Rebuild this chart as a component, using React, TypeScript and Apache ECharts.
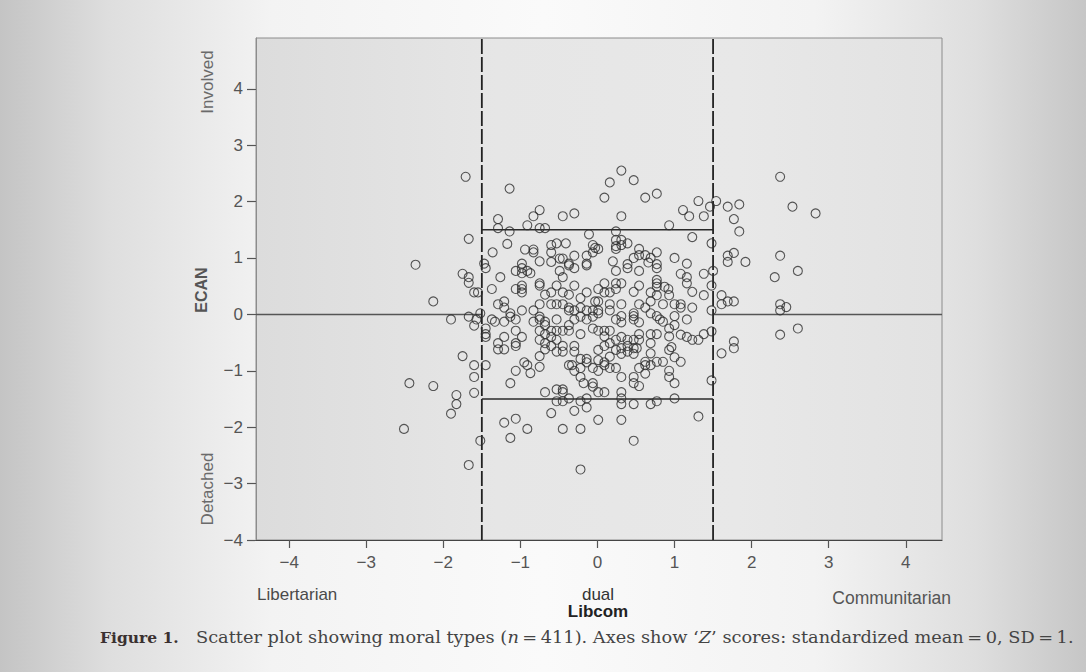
import { useEffect, useRef } from "react";
import * as echarts from "echarts";

type P = [number, number];

// Libertarian side (Libcom < -1.5)
const outsideLeft: P[] = [
  [-1.71, 2.44], [-1.67, 1.34], [-2.36, 0.88], [-1.75, 0.72], [-1.67, 0.66], [-1.67, 0.56],
  [-1.6, 0.39], [-1.55, 0.39], [-2.13, 0.23], [-1.9, -0.09], [-1.67, -0.04], [-1.57, -0.09],
  [-1.6, -0.2], [-1.52, 0.02], [-1.75, -0.74], [-1.6, -0.9], [-1.6, -1.11], [-2.44, -1.22],
  [-2.13, -1.27], [-1.83, -1.43], [-1.6, -1.39], [-1.83, -1.59], [-1.9, -1.76], [-2.51, -2.03],
  [-1.52, -2.24], [-1.67, -2.67],
];

// Communitarian side (Libcom > 1.5)
const outsideRight: P[] = [
  [2.37, 2.44], [1.54, 2.01], [1.69, 1.91], [1.84, 1.95], [2.53, 1.91], [2.83, 1.79],
  [1.77, 1.69], [1.84, 1.47], [1.48, 1.26], [1.77, 1.09], [1.69, 1.04], [1.69, 0.93],
  [1.92, 0.93], [2.37, 1.04], [2.6, 0.77], [2.3, 0.66], [1.5, 0.77], [1.48, 0.51],
  [1.61, 0.34], [1.61, 0.18], [1.69, 0.23], [1.77, 0.23], [2.37, 0.18], [2.37, 0.07],
  [2.45, 0.13], [1.48, 0.07], [1.48, -0.3], [2.6, -0.25], [2.37, -0.36], [1.77, -0.48],
  [1.77, -0.6], [1.61, -0.69], [1.48, -1.17],
];

// Dual zone, upper part
const dualTop: P[] = [
  [-1.14, 2.23], [-0.75, 1.85], [-0.83, 1.74], [-1.29, 1.69], [-0.45, 1.74], [-0.3, 1.79],
  [-0.91, 1.58], [-1.29, 1.53], [-1.14, 1.47], [-0.75, 1.53], [-0.68, 1.53], [-0.11, 1.42],
  [-1.17, 1.25], [-1.36, 1.1], [-0.94, 1.15], [-0.83, 1.15], [-0.83, 1.1], [-0.6, 1.23],
  [-0.53, 1.26], [-0.41, 1.26], [-0.6, 1.1], [-0.75, 0.94], [-0.6, 0.93], [-0.49, 0.99],
  [-0.45, 0.99], [-0.3, 1.04], [-0.14, 1.04], [-0.06, 1.23], [-0.03, 1.18], [-0.06, 1.1],
  [-1.47, 0.9], [-0.98, 0.9], [-0.37, 0.9], [-0.14, 0.9],
  [0.31, 2.55], [0.47, 2.38], [0.16, 2.34], [0.77, 2.14], [0.62, 2.07], [0.09, 2.07],
  [1.31, 2.01], [1.46, 1.91], [1.11, 1.85], [1.19, 1.74], [1.38, 1.74], [0.31, 1.74],
  [0.93, 1.58], [0.24, 1.47], [1.23, 1.37], [0.24, 1.32], [0.31, 1.32], [0.39, 1.26],
  [0.24, 1.21], [0.24, 1.16], [0.31, 1.23], [0.01, 1.16], [0.54, 1.16], [0.54, 1.05],
  [0.62, 1.05], [0.69, 1.0], [0.77, 1.1], [0.47, 1.0], [1.0, 1.0], [1.16, 0.9],
  [0.2, 0.94], [0.39, 0.89], [0.77, 0.89],
];

// Dual zone, middle part (left half)
const dualMidLeft: P[] = [
  [-1.45, 0.82], [-1.26, 0.66], [-1.06, 0.77], [-0.98, 0.82], [-0.98, 0.73], [-0.91, 0.77],
  [-0.87, 0.73], [-0.49, 0.77], [-0.45, 0.66], [-0.37, 0.87], [-0.3, 0.82], [-0.14, 0.87],
  [-1.37, 0.45], [-1.06, 0.45], [-0.98, 0.51], [-0.98, 0.45], [-0.98, 0.39], [-0.75, 0.55],
  [-0.75, 0.51], [-0.53, 0.51], [-0.3, 0.51], [-0.68, 0.35], [-0.6, 0.39], [-0.45, 0.39],
  [-0.37, 0.35], [-0.14, 0.39], [-0.22, 0.29], [-0.03, 0.23], [-1.29, 0.18], [-1.21, 0.23],
  [-1.21, 0.12], [-1.13, 0.02], [-1.13, -0.04], [-1.06, -0.09], [-0.98, 0.07], [-0.83, 0.07],
  [-0.75, 0.18], [-0.6, 0.18], [-0.53, 0.18], [-0.45, 0.18], [-0.37, 0.12], [-0.37, 0.07],
  [-0.3, 0.07], [-0.22, 0.12], [-0.14, 0.07], [-0.06, 0.07], [0.01, 0.02],
  [-1.37, -0.09], [-1.33, -0.13], [-1.21, -0.13], [-0.83, -0.13], [-0.75, -0.09], [-0.75, -0.04],
  [-0.68, -0.13], [-0.53, -0.09], [-0.37, -0.19], [-0.3, -0.09], [-0.22, -0.04], [-0.14, -0.09],
  [-0.06, -0.04], [-1.45, -0.25], [-1.45, -0.35], [-1.45, -0.4], [-1.21, -0.4], [-1.29, -0.51],
  [-1.29, -0.62], [-1.21, -0.62], [-1.06, -0.29], [-1.06, -0.51], [-1.06, -0.56], [-0.98, -0.4],
  [-0.75, -0.29], [-0.75, -0.45], [-0.68, -0.19], [-0.68, -0.35], [-0.68, -0.51], [-0.68, -0.62],
  [-0.6, -0.29], [-0.6, -0.4], [-0.6, -0.56], [-0.53, -0.45], [-0.53, -0.29], [-0.45, -0.29],
  [-0.37, -0.29], [-0.45, -0.56], [-0.53, -0.66], [-0.45, -0.66], [-0.3, -0.56], [-0.3, -0.66],
  [-0.22, -0.35], [-0.06, -0.25], [-0.75, -0.74], [-0.22, -0.79], [-0.14, -0.79], [0.01, -0.63],
];

// Dual zone, middle part (right half)
const dualMidRight: P[] = [
  [0.24, 0.77], [0.39, 0.82], [0.54, 0.77], [0.66, 0.92], [0.77, 0.82], [1.08, 0.72],
  [1.16, 0.66], [1.38, 0.72], [0.09, 0.55], [0.24, 0.55], [0.31, 0.55], [0.77, 0.61],
  [0.77, 0.55], [0.77, 0.49], [0.87, 0.49], [0.92, 0.45], [0.54, 0.51], [1.16, 0.55],
  [0.01, 0.45], [0.09, 0.39], [0.16, 0.39], [0.24, 0.45], [0.47, 0.4], [0.69, 0.39],
  [0.77, 0.34], [0.93, 0.34], [1.23, 0.4], [1.38, 0.34], [0.01, 0.23], [0.16, 0.18],
  [0.01, 0.07], [0.16, 0.07], [0.31, 0.18], [0.54, 0.18], [0.69, 0.23], [0.85, 0.18],
  [1.0, 0.18], [1.08, 0.18], [1.08, 0.12], [1.23, 0.12], [0.24, -0.09], [0.31, -0.03],
  [0.47, 0.02], [0.47, -0.03], [0.47, -0.09], [0.54, -0.14], [0.62, 0.12], [0.69, 0.02],
  [0.77, -0.03], [0.81, -0.09], [0.85, -0.13], [0.93, -0.25], [1.0, -0.19], [1.0, -0.03],
  [1.16, -0.09], [0.01, -0.29], [0.09, -0.29], [0.16, -0.29], [0.09, -0.39], [0.31, -0.14],
  [0.24, -0.45], [0.31, -0.4], [0.39, -0.45], [0.47, -0.45], [0.54, -0.35], [0.54, -0.45],
  [0.69, -0.35], [0.77, -0.35], [0.69, -0.51], [0.93, -0.39], [1.08, -0.36], [1.16, -0.4],
  [1.23, -0.45], [1.31, -0.45], [1.38, -0.35], [0.09, -0.56], [0.16, -0.51], [0.24, -0.63],
  [0.31, -0.6], [0.39, -0.56], [0.47, -0.6], [0.51, -0.6], [0.16, -0.75], [0.31, -0.7],
  [0.39, -0.66], [0.47, -0.7], [0.69, -0.69], [0.93, -0.63], [0.96, -0.58], [1.0, -0.76],
  [0.01, -0.81], [0.09, -0.85], [0.62, -0.84], [0.77, -0.84], [0.85, -0.84], [1.08, -0.84],
];

// Dual zone, lower part
const dualBottom: P[] = [
  [-1.45, -0.9], [-1.06, -1.0], [-0.95, -0.85], [-0.91, -0.9], [-0.87, -1.04], [-0.75, -0.93],
  [-1.13, -1.22], [-0.68, -1.38], [-0.53, -1.33], [-0.45, -1.33], [-0.45, -1.38], [-0.37, -1.49],
  [-0.53, -1.54], [-0.45, -1.54], [-0.37, -0.9], [-0.33, -0.9], [-0.3, -1.0], [-0.22, -0.95],
  [-0.22, -1.11], [-0.14, -0.85], [-0.18, -1.22], [-0.06, -1.22], [-0.06, -1.28], [0.01, -1.38],
  [0.01, -1.0], [-0.06, -0.95], [-0.22, -1.54], [-0.14, -1.49], [-0.14, -1.65], [-0.3, -1.71],
  [-0.6, -1.75], [-1.21, -1.92], [-1.06, -1.85], [-0.91, -2.03], [-0.45, -2.03], [-0.22, -2.03],
  [-1.13, -2.19], [0.01, -1.87], [-0.22, -2.75],
  [0.09, -0.9], [0.16, -0.95], [0.24, -0.95], [0.54, -0.95], [0.62, -0.9], [0.62, -1.05],
  [0.69, -0.9], [0.93, -1.0], [0.31, -1.11], [0.47, -1.11], [0.47, -1.22], [0.54, -1.27],
  [0.93, -1.11], [1.0, -1.22], [0.09, -1.38], [0.31, -1.38], [0.31, -1.49], [0.31, -1.59],
  [0.47, -1.59], [0.69, -1.59], [0.77, -1.54], [1.0, -1.49], [0.31, -1.87], [1.31, -1.81],
  [0.47, -2.24],
];

const xTicks = [-4, -3, -2, -1, 0, 1, 2, 3, 4];
const yTicks = [-4, -3, -2, -1, 0, 1, 2, 3, 4];
const xRange: [number, number] = [-4.43, 4.47];
const yRange: [number, number] = [-4, 4.9];
const cutoff = 1.5;

const sans = "'Liberation Sans', Arial, sans-serif";
const serif = "'DejaVu Serif', 'Liberation Serif', serif";

export default function App() {
  const ref = useRef<HTMLDivElement>(null);
  useEffect(() => {
    const chart = echarts.init(ref.current!, null, { renderer: "svg" });
    const fmt = (v: number) => String(v).replace("-", "\u2212");
    const points = [
      ...outsideLeft, ...outsideRight, ...dualTop, ...dualMidLeft, ...dualMidRight, ...dualBottom,
    ];
    const tickStyle = { color: "#555", width: 1.2 };
    chart.setOption({
      animation: false,
      backgroundColor: "transparent",
      grid: {
        left: 256, top: 38, width: 686, height: 502, show: true,
        borderColor: "#8c8c8c", borderWidth: 1,
        backgroundColor: new echarts.graphic.LinearGradient(0, 0, 1, 0, [
          { offset: 0, color: "#dcdcdc" },
          { offset: 0.35, color: "#e6e6e6" },
          { offset: 0.7, color: "#e8e8e8" },
          { offset: 1, color: "#e2e2e2" },
        ]),
      },
      xAxis: {
        type: "value", min: xRange[0], max: xRange[1],
        axisLine: { show: true, onZero: false, lineStyle: { color: "#444", width: 1.2 } },
        axisTick: { show: true, customValues: xTicks, length: 8, lineStyle: tickStyle },
        axisLabel: {
          customValues: xTicks, formatter: fmt, fontSize: 17, color: "#555",
          fontFamily: sans, margin: 14,
        },
        splitLine: { show: false },
      },
      yAxis: {
        type: "value", min: yRange[0], max: yRange[1],
        axisLine: { show: true, onZero: false, lineStyle: { color: "#8c8c8c", width: 1 } },
        axisTick: { show: true, customValues: yTicks, length: 9, lineStyle: tickStyle },
        axisLabel: {
          customValues: yTicks, formatter: fmt, fontSize: 17, color: "#555",
          fontFamily: sans, margin: 13,
        },
        splitLine: { show: false },
      },
      series: [
        {
          type: "line", data: [[xRange[0], 0], [-cutoff, 0]], symbol: "none",
          lineStyle: { color: "#555", width: 1.5 }, z: 1,
        },
        {
          type: "line", data: [[cutoff, 0], [xRange[1], 0]], symbol: "none",
          lineStyle: { color: "#555", width: 1.5 }, z: 1,
        },
        {
          type: "line", data: [[-cutoff, cutoff], [cutoff, cutoff]], symbol: "none",
          lineStyle: { color: "#2a2a2a", width: 1.6 }, z: 1,
        },
        {
          type: "line", data: [[-cutoff, -cutoff], [cutoff, -cutoff]], symbol: "none",
          lineStyle: { color: "#2a2a2a", width: 1.6 }, z: 1,
        },
        {
          type: "line", data: [[-cutoff, yRange[0]], [-cutoff, yRange[1]]], symbol: "none",
          lineStyle: { color: "#222", width: 1.8, type: [15, 3] }, z: 1,
        },
        {
          type: "line", data: [[cutoff, yRange[0]], [cutoff, yRange[1]]], symbol: "none",
          lineStyle: { color: "#222", width: 1.8, type: [15, 3] }, z: 1,
        },
        {
          type: "scatter", data: points, symbol: "circle", symbolSize: 9,
          itemStyle: { color: "rgba(0,0,0,0)", borderColor: "#2e2e2e", borderWidth: 1.1 },
          z: 2,
        },
      ],
      graphic: [
        { type: "text", x: 207, y: 82, rotation: Math.PI / 2,
          style: { text: "Involved", fontSize: 17, fill: "#6a6a6a", fontFamily: sans, align: "center", verticalAlign: "middle" } },
        { type: "text", x: 201, y: 290, rotation: Math.PI / 2,
          style: { text: "ECAN", fontSize: 16, fontWeight: "bold", fill: "#555", fontFamily: sans, align: "center", verticalAlign: "middle" } },
        { type: "text", x: 207, y: 489, rotation: Math.PI / 2,
          style: { text: "Detached", fontSize: 17, fill: "#6a6a6a", fontFamily: sans, align: "center", verticalAlign: "middle" } },
        { type: "text", x: 257, y: 594,
          style: { text: "Libertarian", fontSize: 17, fill: "#4a4a4a", fontFamily: sans, align: "left", verticalAlign: "middle" } },
        { type: "text", x: 598, y: 594,
          style: { text: "dual", fontSize: 17, fill: "#333", fontFamily: sans, align: "center", verticalAlign: "middle" } },
        { type: "text", x: 598, y: 611,
          style: { text: "Libcom", fontSize: 17, fontWeight: "bold", fill: "#222", fontFamily: sans, align: "center", verticalAlign: "middle" } },
        { type: "text", x: 951, y: 598,
          style: { text: "Communitarian", fontSize: 17.5, fill: "#555", fontFamily: sans, align: "right", verticalAlign: "middle" } },
        { type: "text", x: 100, y: 637,
          style: { text: "Figure 1.", fontSize: 15.5, fontWeight: "bold", fill: "#3a3030", fontFamily: serif, align: "left", verticalAlign: "middle" } },
        { type: "text", x: 196, y: 637, scaleX: 1.11,
          style: {
            text: "Scatter plot showing moral types ({i|n}\u2009=\u2009411). Axes show \u2018{i|Z}\u2019 scores: standardized mean\u2009=\u20090, SD\u2009=\u20091.",
            fontSize: 16, fill: "#444", fontFamily: serif, align: "left", verticalAlign: "middle",
            rich: { i: { fontStyle: "italic", fontSize: 16, fill: "#444", fontFamily: serif } },
          } },
      ],
    });
    return () => chart.dispose();
  }, []);
  return (
    <div
      style={{
        position: "fixed", left: 0, top: 0, width: 1086, height: 672,
        background: "linear-gradient(to right, #c4c4c4 0%, #dedede 10%, #f3f3f3 25%, #fafafa 50%, #f3f3f3 75%, #dedede 90%, #c6c6c6 100%)",
      }}
    >
      <div ref={ref} style={{ width: 1086, height: 672 }} />
    </div>
  );
}
